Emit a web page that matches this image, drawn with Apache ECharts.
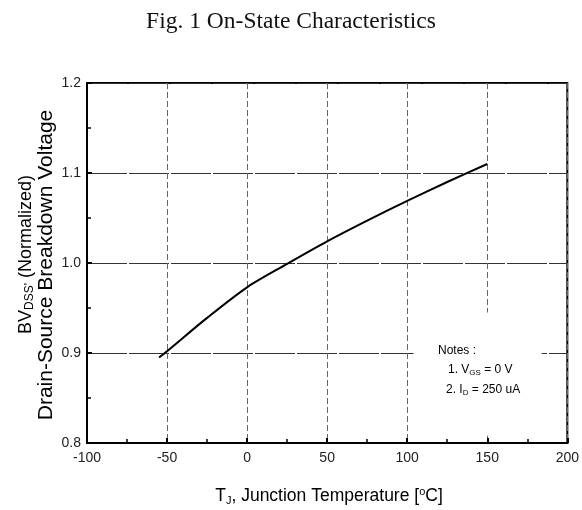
<!DOCTYPE html>
<html>
<head>
<meta charset="utf-8">
<script src="https://cdn.jsdelivr.net/npm/echarts@6/dist/echarts.min.js"></script>
<style>html,body{margin:0;padding:0;background:#fff}#c{width:582px;height:510px}</style>
</head>
<body>
<div id="c"></div>
<script>
// Data
var tempC = [-55, -50, -25, 0, 25, 50, 75, 100, 125, 150];
var bvNorm = [0.895, 0.902, 0.939, 0.973, 0.999, 1.024, 1.047, 1.069, 1.090, 1.110];
var xTicks = [-100, -50, 0, 50, 100, 150, 200];
var yTicks = [0.8, 0.9, 1.0, 1.1, 1.2];
var titleText = 'Fig. 1 On-State Characteristics';
var noteLines = ['Notes :', '{n|1. V}{s|GS}{n| = 0 V}', '{n|2. I}{s|D}{n| = 250 uA}'];

var SANS = 'Liberation Sans, Arial, sans-serif';
var chart = echarts.init(document.getElementById('c'));
var points = tempC.map(function (t, i) { return [t, bvNorm[i]]; });

chart.setOption({
  animation: false,
  backgroundColor: '#fff',
  title: {
    text: titleText, left: 'center', top: 5,
    textStyle: { fontFamily: 'Liberation Serif, Times New Roman, serif', fontWeight: 'normal', fontSize: 23.5, color: '#111' }
  },
  grid: { left: 87, right: 13, top: 83, bottom: 67, show: true, borderColor: '#000', borderWidth: 2 },
  xAxis: {
    type: 'value', min: xTicks[0], max: xTicks[xTicks.length - 1], interval: 50,
    axisLine: { onZero: false, lineStyle: { color: '#000', width: 2 } },
    axisTick: { inside: true, length: 5, lineStyle: { color: '#000', width: 2 } },
    minorTick: { show: true, splitNumber: 2, length: 4, lineStyle: { color: '#000', width: 1.5 } },
    axisLabel: { color: '#222', fontSize: 14, fontFamily: SANS, margin: 8 },
    splitLine: { show: true, lineStyle: { color: '#666', width: 1, type: [6, 3] } }
  },
  yAxis: {
    type: 'value', min: yTicks[0], max: yTicks[yTicks.length - 1], interval: 0.1,
    axisLine: { onZero: false, lineStyle: { color: '#000', width: 2 } },
    axisTick: { inside: true, length: 5, lineStyle: { color: '#000', width: 2 } },
    minorTick: { show: true, splitNumber: 2, length: 4, lineStyle: { color: '#000', width: 1.5 } },
    axisLabel: { color: '#222', fontSize: 14, fontFamily: SANS, margin: 6, formatter: function (v) { return v.toFixed(1); } },
    splitLine: { show: true, lineStyle: { color: '#333', width: 1, type: [40, 2] } }
  },
  series: [{
    type: 'line', data: points, smooth: 0.3, symbol: 'none',
    lineStyle: { color: '#000', width: 2 }, z: 5
  }]
});

var p1 = chart.convertToPixel({ gridIndex: 0 }, [104, 0.945]);
var p2 = chart.convertToPixel({ gridIndex: 0 }, [184, 0.808]);
var line1Rich = {
  n: { fontSize: 18, fontFamily: SANS, color: '#111', lineHeight: 20 },
  s: { fontSize: 12, fontFamily: SANS, color: '#111', lineHeight: 12, verticalAlign: 'bottom' }
};
var line2Rich = {
  n: { fontSize: 21, fontFamily: SANS, color: '#111', lineHeight: 22 }
};
var xRich = {
  n: { fontSize: 17.5, fontFamily: SANS, color: '#111', lineHeight: 20 },
  s: { fontSize: 11, fontFamily: SANS, color: '#111', lineHeight: 11, verticalAlign: 'bottom' },
  u: { fontSize: 11, fontFamily: SANS, color: '#111', lineHeight: 11, verticalAlign: 'top' }
};
var noteRich = {
  n: { fontSize: 12, fontFamily: SANS, color: '#111', lineHeight: 14 },
  s: { fontSize: 8, fontFamily: SANS, color: '#111', lineHeight: 8, verticalAlign: 'bottom' }
};

chart.setOption({
  graphic: [
    { type: 'rect', z: 1, shape: { x: p1[0], y: p1[1], width: p2[0] - p1[0], height: p2[1] - p1[1] }, style: { fill: '#fff' } },
    { type: 'text', z: 10, x: 26, y: 334, rotation: Math.PI / 2,
      style: { text: '{n|BV}{s|DSS\'}{n| (Normalized)}', rich: line1Rich, align: 'left', verticalAlign: 'middle' } },
    { type: 'text', z: 10, x: 46, y: 265, rotation: Math.PI / 2,
      style: { text: '{n|Drain-Source Breakdown Voltage}', rich: line2Rich, align: 'center', verticalAlign: 'middle' } },
    { type: 'text', z: 10, x: 329, y: 496,
      style: { text: '{n|T}{s|J}{n|, Junction Temperature [}{u|o}{n|C]}', rich: xRich, align: 'center', verticalAlign: 'middle' } },
    { type: 'text', z: 10, x: 438, y: 351,
      style: { text: '{n|' + noteLines[0] + '}', rich: noteRich, align: 'left', verticalAlign: 'middle' } },
    { type: 'text', z: 10, x: 448, y: 370,
      style: { text: noteLines[1], rich: noteRich, align: 'left', verticalAlign: 'middle' } },
    { type: 'text', z: 10, x: 446, y: 390,
      style: { text: noteLines[2], rich: noteRich, align: 'left', verticalAlign: 'middle' } }
  ]
});
</script>
</body>
</html>
